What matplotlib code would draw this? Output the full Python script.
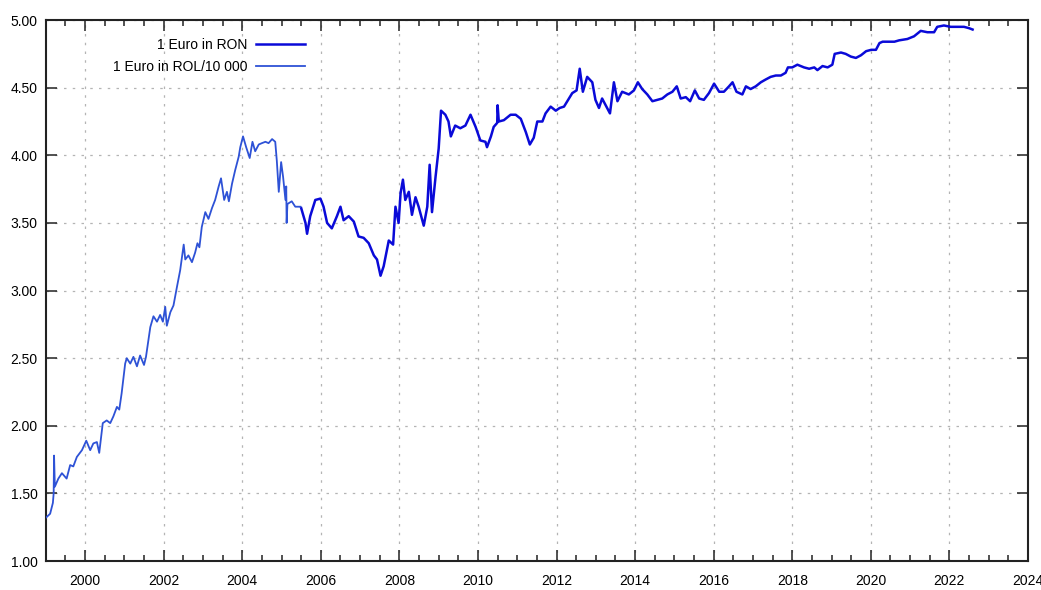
import matplotlib
matplotlib.use("Agg")
import matplotlib.pyplot as plt
from matplotlib.ticker import MultipleLocator, FormatStrFormatter

plt.rcParams['font.family'] = ['Liberation Sans', 'DejaVu Sans']

# Euro in old lei (divided by 10 000), up to the 2005 redenomination
rol_t = [1999.00, 1999.11, 1999.18, 1999.20, 1999.21, 1999.23, 1999.32, 1999.41,
         1999.53, 1999.62, 1999.70, 1999.79, 1999.92, 2000.03, 2000.13, 2000.21,
         2000.30, 2000.36, 2000.45, 2000.55, 2000.64, 2000.72, 2000.81, 2000.87,
         2000.93, 2001.02, 2001.06, 2001.15, 2001.23, 2001.32, 2001.40, 2001.50,
         2001.55, 2001.66, 2001.74, 2001.83, 2001.91, 2001.98, 2002.04, 2002.08,
         2002.17, 2002.25, 2002.34, 2002.42, 2002.51, 2002.55, 2002.63, 2002.72,
         2002.80, 2002.86, 2002.91, 2002.97, 2003.06, 2003.14, 2003.23, 2003.31,
         2003.40, 2003.46, 2003.54, 2003.61, 2003.66, 2003.74, 2003.82, 2003.91,
         2003.95, 2004.02, 2004.10, 2004.19, 2004.26, 2004.33, 2004.42, 2004.50,
         2004.59, 2004.67, 2004.76, 2004.84, 2004.88, 2004.93, 2004.99, 2005.04,
         2005.10, 2005.12, 2005.13, 2005.15, 2005.26, 2005.35, 2005.48]
rol_v = [1.32, 1.35, 1.43, 1.50, 1.78, 1.55, 1.61, 1.65,
         1.61, 1.71, 1.70, 1.77, 1.82, 1.89, 1.82, 1.87,
         1.88, 1.80, 2.02, 2.04, 2.02, 2.07, 2.14, 2.12,
         2.24, 2.46, 2.50, 2.46, 2.51, 2.44, 2.52, 2.45,
         2.51, 2.73, 2.81, 2.77, 2.82, 2.77, 2.88, 2.74,
         2.84, 2.89, 3.03, 3.15, 3.34, 3.23, 3.26, 3.21,
         3.28, 3.35, 3.32, 3.47, 3.58, 3.53, 3.61, 3.67,
         3.77, 3.83, 3.67, 3.73, 3.66, 3.79, 3.89, 3.99,
         4.06, 4.14, 4.06, 3.98, 4.10, 4.03, 4.08, 4.09,
         4.10, 4.09, 4.12, 4.10, 3.96, 3.73, 3.95, 3.84,
         3.67, 3.77, 3.50, 3.64, 3.66, 3.62, 3.62]

# Euro in new lei
ron_t = [2005.50, 2005.61, 2005.65, 2005.73, 2005.86, 2005.99, 2006.07, 2006.16,
         2006.28, 2006.41, 2006.50, 2006.58, 2006.71, 2006.84, 2006.96, 2007.09,
         2007.22, 2007.35, 2007.43, 2007.52, 2007.60, 2007.73, 2007.84, 2007.90,
         2007.98, 2008.03, 2008.09, 2008.15, 2008.24, 2008.32, 2008.41, 2008.49,
         2008.62, 2008.71, 2008.77, 2008.83, 2008.92, 2009.00, 2009.06, 2009.17,
         2009.25, 2009.31, 2009.42, 2009.55, 2009.68, 2009.81, 2009.94, 2010.06,
         2010.19, 2010.23, 2010.33, 2010.40, 2010.49, 2010.50, 2010.53, 2010.66,
         2010.83, 2010.96, 2011.09, 2011.22, 2011.32, 2011.42, 2011.51, 2011.64,
         2011.72, 2011.85, 2011.98, 2012.08, 2012.19, 2012.40, 2012.51, 2012.59,
         2012.67, 2012.78, 2012.91, 2012.99, 2013.08, 2013.16, 2013.25, 2013.36,
         2013.46, 2013.55, 2013.67, 2013.84, 2013.97, 2014.07, 2014.18, 2014.31,
         2014.44, 2014.57, 2014.69, 2014.82, 2014.95, 2015.06, 2015.16, 2015.29,
         2015.40, 2015.52, 2015.63, 2015.75, 2015.88, 2016.01, 2016.14, 2016.26,
         2016.39, 2016.48, 2016.58, 2016.73, 2016.82, 2016.94, 2017.07, 2017.20,
         2017.32, 2017.45, 2017.58, 2017.71, 2017.83, 2017.89, 2018.00, 2018.13,
         2018.30, 2018.43, 2018.56, 2018.64, 2018.77, 2018.90, 2019.02, 2019.08,
         2019.24, 2019.36, 2019.49, 2019.62, 2019.75, 2019.88, 2020.01, 2020.13,
         2020.22, 2020.30, 2020.43, 2020.60, 2020.72, 2020.93, 2021.10, 2021.27,
         2021.44, 2021.61, 2021.69, 2021.86, 2022.03, 2022.20, 2022.37, 2022.50,
         2022.59]
ron_v = [3.61, 3.50, 3.42, 3.55, 3.67, 3.68, 3.62, 3.50,
         3.46, 3.55, 3.62, 3.52, 3.55, 3.51, 3.40, 3.39,
         3.35, 3.26, 3.23, 3.11, 3.18, 3.37, 3.34, 3.62,
         3.50, 3.72, 3.82, 3.67, 3.73, 3.56, 3.69, 3.62,
         3.48, 3.62, 3.93, 3.58, 3.84, 4.05, 4.33, 4.30,
         4.25, 4.14, 4.22, 4.20, 4.22, 4.30, 4.21, 4.11,
         4.10, 4.06, 4.14, 4.21, 4.24, 4.37, 4.25, 4.26,
         4.30, 4.30, 4.27, 4.17, 4.08, 4.13, 4.25, 4.25,
         4.31, 4.36, 4.33, 4.35, 4.36, 4.46, 4.48, 4.64,
         4.47, 4.58, 4.54, 4.41, 4.35, 4.42, 4.37, 4.31,
         4.54, 4.40, 4.47, 4.45, 4.48, 4.54, 4.49, 4.45,
         4.40, 4.41, 4.42, 4.45, 4.47, 4.51, 4.42, 4.43,
         4.40, 4.48, 4.42, 4.41, 4.46, 4.53, 4.47, 4.47,
         4.51, 4.54, 4.47, 4.45, 4.51, 4.49, 4.51, 4.54,
         4.56, 4.58, 4.59, 4.59, 4.61, 4.65, 4.65, 4.67,
         4.65, 4.64, 4.65, 4.63, 4.66, 4.65, 4.67, 4.75,
         4.76, 4.75, 4.73, 4.72, 4.74, 4.77, 4.78, 4.78,
         4.83, 4.84, 4.84, 4.84, 4.85, 4.86, 4.88, 4.92,
         4.91, 4.91, 4.95, 4.96, 4.95, 4.95, 4.95, 4.94,
         4.93]

fig = plt.figure(figsize=(10.41, 5.90), dpi=100)
ax = fig.add_axes([0.044, 0.049, 0.9435, 0.917])

ax.plot(ron_t, ron_v, color='#0a0ad8', lw=1.8, label='1 Euro in RON', zorder=3)
ax.plot(rol_t, rol_v, color='#2e52d6', lw=1.3, label='1 Euro in ROL/10 000', zorder=3)

ax.set_xlim(1999, 2024)
ax.set_ylim(1.0, 5.0)
ax.xaxis.set_major_locator(MultipleLocator(2))
ax.xaxis.set_minor_locator(MultipleLocator(0.5))
ax.yaxis.set_major_locator(MultipleLocator(0.5))
ax.yaxis.set_major_formatter(FormatStrFormatter('%.2f'))

ax.grid(True, which='major', color='#b4b4b4', lw=0.9, linestyle=(0, (2, 5)))
ax.tick_params(which='both', direction='in', top=True, right=True,
               width=1.1, labelsize=10, colors='#222222', labelcolor='black')
ax.tick_params(which='major', length=8)
ax.tick_params(which='minor', length=4.5)
ax.tick_params(axis='x', pad=9)
ax.tick_params(axis='y', pad=6)
for s in ax.spines.values():
    s.set_linewidth(1.5)
    s.set_color('#222222')

leg = ax.legend(loc='upper left', bbox_to_anchor=(0.056, 0.99), frameon=False,
                markerfirst=False, fontsize=10, handlelength=3.5,
                handletextpad=0.6, labelspacing=0.55)

fig.savefig('out.png', dpi=100)
